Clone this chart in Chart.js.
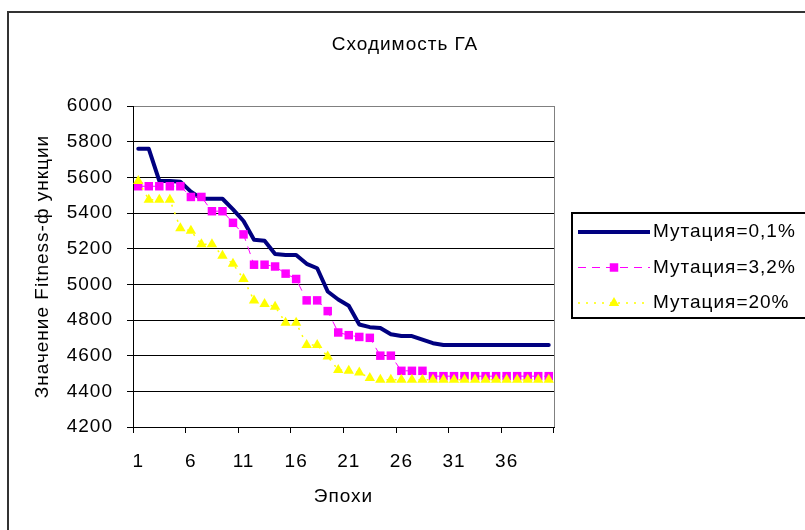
<!DOCTYPE html>
<html>
<head>
<meta charset="utf-8">
<script src="https://cdn.jsdelivr.net/npm/chart.js@4/dist/chart.umd.min.js"></script>
<style>
  body { margin: 0; background: #fff; }
  canvas { display: block; }
</style>
</head>
<body>
<canvas id="ga_chart" width="805" height="530"></canvas>
<script>
// Epochs (categories) and fitness values
const epochs = ['1', '2', '3', '4', '5', '6', '7', '8', '9', '10',
                '11', '12', '13', '14', '15', '16', '17', '18', '19', '20',
                '21', '22', '23', '24', '25', '26', '27', '28', '29', '30',
                '31', '32', '33', '34', '35', '36', '37', '38', '39', '40'];

const mut01 = [5760, 5760, 5580, 5580, 5575, 5520, 5480, 5480, 5480, 5420,
               5355, 5250, 5245, 5170, 5165, 5165, 5115, 5090, 4960, 4915,
               4880, 4775, 4760, 4755, 4720, 4710, 4710, 4690, 4670, 4660,
               4660, 4660, 4660, 4660, 4660, 4660, 4660, 4660, 4660, 4660];

const mut32 = [5550, 5550, 5550, 5550, 5550, 5490, 5490, 5410, 5410, 5345,
               5280, 5110, 5110, 5100, 5060, 5030, 4910, 4910, 4850, 4730,
               4715, 4705, 4700, 4600, 4600, 4515, 4515, 4515, 4485, 4485,
               4485, 4485, 4485, 4485, 4485, 4485, 4485, 4485, 4485, 4485];

const mut20 = [5580, 5475, 5475, 5475, 5315, 5300, 5225, 5225, 5160, 5115,
               5030, 4910, 4890, 4875, 4785, 4785, 4660, 4660, 4595, 4520,
               4515, 4505, 4475, 4465, 4465, 4465, 4465, 4465, 4465, 4465,
               4465, 4465, 4465, 4465, 4465, 4465, 4465, 4465, 4465, 4465];

const seriesNames = ['Мутация=0,1%', 'Мутация=3,2%', 'Мутация=20%'];

const yMin = 4200;
const yMax = 6000;
const yStep = 200;

const FONT = '"Liberation Sans", Arial, sans-serif';
const FONT_SIZE = 19;

Chart.defaults.font.family = FONT;
Chart.defaults.font.size = FONT_SIZE;
Chart.defaults.color = '#000';

// Frame, title, plot border and the legend box, Excel style
const excelFrame = {
   id: 'excelFrame',
   beforeUpdate(chart) {
      chart.ctx.letterSpacing = '1px';
   },
   beforeDraw(chart) {
      const ctx = chart.ctx;
      ctx.save();
      ctx.fillStyle = '#fff';
      ctx.fillRect(0, 0, chart.width, chart.height);
      ctx.strokeStyle = '#333';
      ctx.lineWidth = 2;
      ctx.strokeRect(8, 12, chart.width + 20, chart.height + 20);
      ctx.restore();
      ctx.letterSpacing = '1px';
   },
   beforeDatasetsDraw(chart) {
      const ctx = chart.ctx;
      const area = chart.chartArea;
      ctx.save();
      ctx.strokeStyle = '#808080';
      ctx.lineWidth = 1;
      ctx.beginPath();
      ctx.moveTo(Math.round(area.right) + 0.5, area.top);
      ctx.lineTo(Math.round(area.right) + 0.5, area.bottom);
      ctx.stroke();
      ctx.restore();
   },
   afterDraw(chart) {
      const ctx = chart.ctx;
      ctx.save();
      ctx.letterSpacing = '1px';
      ctx.font = FONT_SIZE + 'px ' + FONT;
      ctx.fillStyle = '#000';
      ctx.textAlign = 'center';
      ctx.textBaseline = 'middle';
      ctx.fillText('Сходимость ГА', 405, 45);

      // legend box
      ctx.strokeStyle = '#000';
      ctx.lineWidth = 2;
      ctx.strokeRect(572, 213, 250, 105);

      ctx.textAlign = 'left';
      chart.data.datasets.forEach((ds, i) => {
         const y = 232 + i * 35.5;
         ctx.strokeStyle = ds.borderColor;
         ctx.lineWidth = ds.borderWidth;
         ctx.setLineDash(ds.borderDash || []);
         ctx.beginPath();
         ctx.moveTo(578, y);
         ctx.lineTo(650, y);
         ctx.stroke();
         ctx.setLineDash([]);
         if (ds.pointRadius > 0) {
            ctx.fillStyle = ds.pointBackgroundColor;
            ctx.strokeStyle = ds.pointBorderColor;
            Chart.helpers.drawPoint(ctx, {
               pointStyle: ds.pointStyle,
               radius: ds.pointRadius,
               borderWidth: 0,
               rotation: 0
            }, 614, y);
         }
         ctx.fillStyle = '#000';
         ctx.fillText(seriesNames[i], 653, y);
      });
      ctx.restore();
   }
};

const xTickColor = c => (c.type !== 'tick' || c.index % 5 === 0) ? '#000' : 'rgba(0,0,0,0)';

new Chart(document.getElementById('ga_chart').getContext('2d'), {
   type: 'line',
   data: {
      labels: epochs,
      datasets: [
         {
            label: seriesNames[0],
            data: mut01,
            borderColor: '#000080',
            borderWidth: 4,
            borderJoinStyle: 'round',
            borderCapStyle: 'round',
            pointRadius: 0,
            order: 3
         },
         {
            label: seriesNames[1],
            data: mut32,
            borderColor: '#FF00FF',
            borderWidth: 1,
            borderDash: [8, 6],
            pointStyle: 'rect',
            pointRadius: 6,
            pointBorderWidth: 0,
            pointBackgroundColor: '#FF00FF',
            pointBorderColor: '#FF00FF',
            order: 2
         },
         {
            label: seriesNames[2],
            data: mut20,
            borderColor: '#FFFF00',
            borderWidth: 1.5,
            borderDash: [2, 6],
            pointStyle: 'triangle',
            pointRadius: 6,
            pointBorderWidth: 0,
            pointBackgroundColor: '#FFFF00',
            pointBorderColor: '#FFFF00',
            order: 1
         }
      ]
   },
   options: {
      responsive: false,
      animation: false,
      events: [],
      layout: { padding: { left: 31, top: 106, right: 251, bottom: 22 } },
      plugins: {
         legend: { display: false },
         title: { display: false },
         tooltip: { enabled: false }
      },
      scales: {
         x: {
            type: 'category',
            offset: true,
            grid: {
               offset: true,
               drawOnChartArea: false,
               drawTicks: true,
               tickLength: 6,
               color: xTickColor,
               tickColor: xTickColor
            },
            border: { color: '#000', width: 1 },
            ticks: {
               autoSkip: false,
               maxRotation: 0,
               padding: 17,
               callback(value, index) {
                  return index % 5 === 0 ? this.getLabelForValue(value) : '';
               }
            },
            title: { display: true, text: 'Эпохи', padding: 0 },
            afterFit(scale) { scale.height = 81; }
         },
         y: {
            min: yMin,
            max: yMax,
            ticks: {
               stepSize: yStep,
               padding: 14,
               callback: value => String(value)
            },
            grid: {
               color: c => (c.tick && c.tick.value === yMax) ? '#808080' : '#000',
               tickColor: '#000',
               tickLength: 6
            },
            border: { color: '#000', width: 1 },
            title: { display: true, text: 'Значение Fitness-ф ункции', padding: 0 },
            afterFit(scale) { scale.width = 102; }
         }
      }
   },
   plugins: [excelFrame]
});
</script>
</body>
</html>
